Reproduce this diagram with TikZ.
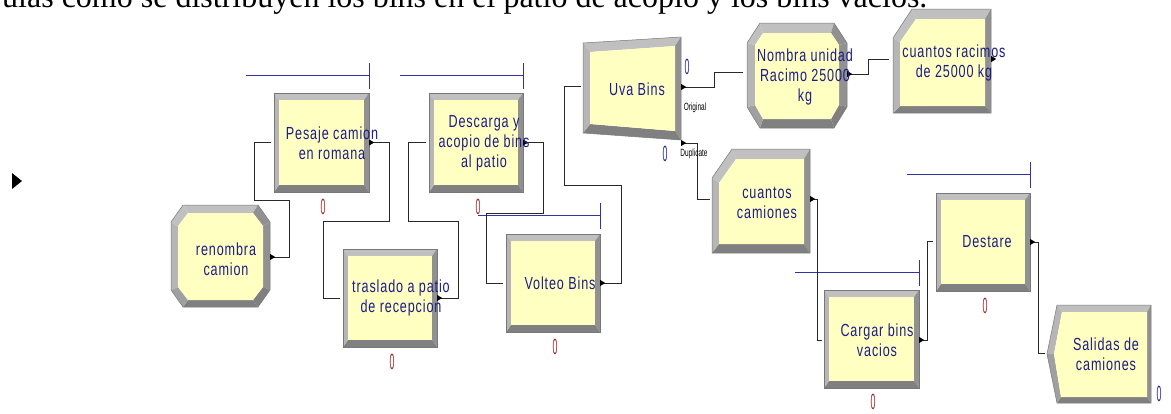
\documentclass[tikz,border=0pt]{standalone}
\usepackage{fontspec}
\usetikzlibrary{calc}
\newfontfamily\arenafont[FakeStretch=0.72,LetterSpace=5]{Liberation Sans}
\newfontfamily\countfont[FakeStretch=0.4]{Liberation Sans}
\newfontfamily\portfont[FakeStretch=0.62]{Liberation Sans}
\newfontfamily\docfont{Liberation Serif}

\definecolor{modfill}{RGB}{255,255,194}
\definecolor{bvtop}{RGB}{192,192,192}
\definecolor{bvleft}{RGB}{182,182,182}
\definecolor{bvright}{RGB}{145,145,145}
\definecolor{bvbottom}{RGB}{128,128,128}
\definecolor{bvlower}{RGB}{160,160,160}
\definecolor{bvedge}{RGB}{120,120,120}
\definecolor{modtext}{RGB}{28,28,135}
\definecolor{queueblue}{RGB}{50,50,165}
\definecolor{cntred}{RGB}{165,40,40}
\definecolor{cntblue}{RGB}{40,40,170}
\definecolor{connline}{RGB}{40,40,40}

\tikzset{
  modlabel/.style={font=\arenafont\fontsize{17.5}{20}\selectfont, text=modtext, align=center, inner sep=0pt},
  modarea/.style={rectangle, inner sep=0pt, draw=none},
  conn/.style={draw=connline, line width=1pt},
  queue/.style={draw=queueblue, line width=1pt},
  redcount/.style={font=\countfont\fontsize{22}{22}\selectfont, text=cntred, inner sep=0pt},
  bluecount/.style={font=\countfont\fontsize{22}{22}\selectfont, text=cntblue, inner sep=0pt},
  portlabel/.style={font=\portfont\fontsize{10.5}{11}\selectfont, inner sep=0pt},
  outline/.style={draw=bvedge, line width=0.5pt},
}

% bevel faces between outer points o<i> and inner points i<i>
\newcommand\bevel[1]{%
  \foreach \a/\b/\c in {#1}{\fill[fill=\c] (o\a) -- (o\b) -- (i\b) -- (i\a) -- cycle;}}

% rectangular Process module with bevelled frame
\newcommand\processbox[5]{%
  \coordinate (o1) at (#2,#3); \coordinate (o2) at (#4,#3);
  \coordinate (o3) at (#4,#5); \coordinate (o4) at (#2,#5);
  \coordinate (i1) at (#2+5,#3+7); \coordinate (i2) at (#4-5,#3+7);
  \coordinate (i3) at (#4-5,#5-7); \coordinate (i4) at (#2+5,#5-7);
  \bevel{1/2/bvtop,2/3/bvright,3/4/bvbottom,4/1/bvleft}
  \fill[modfill] (i1) -- (i2) -- (i3) -- (i4) -- cycle;
  \draw[outline] (o1) -- (o2) -- (o3) -- (o4) -- cycle;
  \node[modarea, minimum width={#4-#2}, minimum height={#5-#3}] (#1) at ({(#2+#4)/2},{(#3+#5)/2}) {};
}

% queue line above a module: node, length, rise above the top edge
\newcommand\queueline[3]{%
  \draw[queue] ($(#1.north east)+(0,-#3)$) -- ++(-#2,0);
  \draw[queue] ($(#1.north east)+(0,-#3-13)$) -- ++(0,26);}

% exit point marker
\newcommand\exitmark[1]{\fill[black] (#1) ++(0,-3) -- ++(5,3) -- ++(-5,3) -- cycle;}

\begin{document}
\begin{tikzpicture}[x=1pt,y=-1pt]
\useasboundingbox (0,0) rectangle (1171,413);
\clip (0,0) rectangle (1171,413);
\fill[white] (0,0) rectangle (1171,413);

% running text of the page
\node[font=\docfont\fontsize{32}{36}\selectfont, anchor=base west, inner sep=0pt] (intro) at (2,7)
  {ulas como se distribuyen los bins en el patio de acopio y los bins vacíos.};

% page marker
\fill[black] (12,173) -- (22,181) -- (12,189) -- cycle;

% ---------- Process modules
\processbox{pesaje}{274}{93}{369}{192}
\processbox{traslado}{343}{249}{437}{347}
\processbox{descarga}{429}{93}{523}{192}
\processbox{volteo}{506}{234}{600}{332}
\processbox{cargar}{824}{290}{919}{388}
\processbox{destare}{936}{193}{1030}{291}

% ---------- Assign: renombra camion
\coordinate (o1) at (183,205); \coordinate (o2) at (258,205);
\coordinate (o3) at (270,222); \coordinate (o4) at (270,290);
\coordinate (o5) at (258,307); \coordinate (o6) at (183,307);
\coordinate (o7) at (171,290); \coordinate (o8) at (171,222);
\coordinate (i1) at (188,213); \coordinate (i2) at (253,213);
\coordinate (i3) at (263,226); \coordinate (i4) at (263,287);
\coordinate (i5) at (253,300); \coordinate (i6) at (188,300);
\coordinate (i7) at (178,287); \coordinate (i8) at (178,226);
\bevel{1/2/bvtop,2/3/bvright,3/4/bvright,4/5/bvbottom,5/6/bvbottom,6/7/bvlower,7/8/bvleft,8/1/bvtop}
\fill[modfill] (i1)--(i2)--(i3)--(i4)--(i5)--(i6)--(i7)--(i8)--cycle;
\draw[outline] (o1)--(o2)--(o3)--(o4)--(o5)--(o6)--(o7)--(o8)--cycle;
\node[modarea, minimum width=99, minimum height=102] (renombra) at (220.5,256) {};

% ---------- Separate: Uva Bins
\coordinate (o1) at (583,43); \coordinate (o2) at (681,37);
\coordinate (o3) at (681,140); \coordinate (o4) at (583,133);
\coordinate (i1) at (590,52); \coordinate (i2) at (675,46);
\coordinate (i3) at (675,131); \coordinate (i4) at (590,124);
\bevel{1/2/bvtop,2/3/bvright,3/4/bvbottom,4/1/bvleft}
\fill[modfill] (i1)--(i2)--(i3)--(i4)--cycle;
\draw[outline] (o1)--(o2)--(o3)--(o4)--cycle;
\node[modarea, minimum width=98, minimum height=103] (uva) at (632,88.5) {};

% ---------- Assign: Nombra unidad
\coordinate (o1) at (760,23); \coordinate (o2) at (834,23);
\coordinate (o3) at (847,43); \coordinate (o4) at (847,107);
\coordinate (o5) at (834,128); \coordinate (o6) at (760,128);
\coordinate (o7) at (747,107); \coordinate (o8) at (747,43);
\coordinate (i1) at (763,33); \coordinate (i2) at (831,33);
\coordinate (i3) at (839,45); \coordinate (i4) at (839,105);
\coordinate (i5) at (831,119); \coordinate (i6) at (763,119);
\coordinate (i7) at (755,105); \coordinate (i8) at (755,45);
\bevel{1/2/bvtop,2/3/bvright,3/4/bvright,4/5/bvbottom,5/6/bvbottom,6/7/bvlower,7/8/bvleft,8/1/bvtop}
\fill[modfill] (i1)--(i2)--(i3)--(i4)--(i5)--(i6)--(i7)--(i8)--cycle;
\draw[outline] (o1)--(o2)--(o3)--(o4)--(o5)--(o6)--(o7)--(o8)--cycle;
\node[modarea, minimum width=100, minimum height=105] (nombra) at (797,75.5) {};

% ---------- Record: cuantos racimos
\coordinate (o1) at (912,9); \coordinate (o2) at (991,9);
\coordinate (o3) at (991,113); \coordinate (o4) at (893,113);
\coordinate (o5) at (893,38);
\coordinate (i1) at (916,19); \coordinate (i2) at (985,19);
\coordinate (i3) at (985,106); \coordinate (i4) at (900,106);
\coordinate (i5) at (900,42);
\bevel{1/2/bvtop,2/3/bvright,3/4/bvbottom,4/5/bvleft,5/1/bvtop}
\fill[modfill] (i1)--(i2)--(i3)--(i4)--(i5)--cycle;
\draw[outline] (o1)--(o2)--(o3)--(o4)--(o5)--cycle;
\node[modarea, minimum width=98, minimum height=104] (racimos) at (942,61) {};

% ---------- Record: cuantos camiones
\coordinate (o1) at (732,149); \coordinate (o2) at (810,149);
\coordinate (o3) at (810,253); \coordinate (o4) at (712,253);
\coordinate (o5) at (712,178);
\coordinate (i1) at (736,159); \coordinate (i2) at (804,159);
\coordinate (i3) at (804,244); \coordinate (i4) at (719,244);
\coordinate (i5) at (719,183);
\bevel{1/2/bvtop,2/3/bvright,3/4/bvbottom,4/5/bvleft,5/1/bvtop}
\fill[modfill] (i1)--(i2)--(i3)--(i4)--(i5)--cycle;
\draw[outline] (o1)--(o2)--(o3)--(o4)--(o5)--cycle;
\node[modarea, minimum width=98, minimum height=104] (camiones) at (761,201) {};

% ---------- Dispose: Salidas de camiones
\coordinate (o1) at (1057,305); \coordinate (o2) at (1151,305);
\coordinate (o3) at (1151,403); \coordinate (o4) at (1057,403);
\coordinate (o5) at (1047,354);
\coordinate (i1) at (1062,312); \coordinate (i2) at (1147,312);
\coordinate (i3) at (1147,397); \coordinate (i4) at (1061,397);
\coordinate (i5) at (1054,354);
\bevel{1/2/bvtop,2/3/bvright,3/4/bvbottom,4/5/bvlower,5/1/bvleft}
\fill[modfill] (i1)--(i2)--(i3)--(i4)--(i5)--cycle;
\draw[outline] (o1)--(o2)--(o3)--(o4)--(o5)--cycle;
\node[modarea, minimum width=104, minimum height=98] (salidas) at (1099,354) {};

% ---------- queues
\queueline{pesaje}{123}{17}
\queueline{descarga}{123}{17}
\queueline{volteo}{122}{18}
\queueline{cargar}{124}{17}
\queueline{destare}{123}{18}

% ---------- ports
\coordinate (renombra-out) at ($(renombra.east)+(0,1)$);
\coordinate (pesaje-in) at ($(pesaje.west)+(-3,0)$);
\coordinate (pesaje-out) at (pesaje.east);
\coordinate (traslado-in) at ($(traslado.west)+(-3,0)$);
\coordinate (traslado-out) at (traslado.east);
\coordinate (descarga-in) at ($(descarga.west)+(-3,0)$);
\coordinate (descarga-out) at (descarga.east);
\coordinate (volteo-in) at ($(volteo.west)+(-3,0)$);
\coordinate (volteo-out) at (volteo.east);
\coordinate (uva-in) at ($(uva.west)+(-2,-2.5)$);
\coordinate (uva-orig) at ($(uva.east)+(0,-1.5)$);
\coordinate (uva-dup) at ($(uva.east)+(0,54.5)$);
\coordinate (nombra-in) at ($(nombra.west)+(-4,-3.5)$);
\coordinate (nombra-out) at ($(nombra.east)+(0,-1.5)$);
\coordinate (racimos-in) at ($(racimos.west)+(-4,-2)$);
\coordinate (racimos-out) at ($(racimos.east)+(0,-2)$);
\coordinate (camiones-in) at ($(camiones.west)+(-2,-2)$);
\coordinate (camiones-out) at ($(camiones.east)+(0,-2)$);
\coordinate (cargar-in) at ($(cargar.west)+(-2,1)$);
\coordinate (cargar-out) at ($(cargar.east)+(0,1)$);
\coordinate (destare-in) at ($(destare.west)+(-3,-1)$);
\coordinate (destare-out) at (destare.east);
\coordinate (salidas-in) at ($(salidas.west)+(-2,-1)$);

% ---------- connectors
\draw[conn] (renombra-out) -- ++(19,0) |- (254,200) |- (pesaje-in);
\draw[conn] (pesaje-out) -- ++(20,0) |- (323,221) |- (traslado-in);
\draw[conn] (traslado-out) -- ++(21,0) |- (408,221) |- (descarga-in);
\draw[conn] (descarga-out) -- ++(20,0) |- (486,213) |- (volteo-in);
\draw[conn] (volteo-out) -- ++(21,0) |- (564,185) |- (uva-in);
\draw[conn] (uva-orig) -- ++(33,0) |- (nombra-in);
\draw[conn] (uva-dup) -- ++(16,0) |- (camiones-in);
\draw[conn] (nombra-out) -- ++(21,0) |- (racimos-in);
\draw[conn] (camiones-out) -- ++(7,0) |- (cargar-in);
\draw[conn] (cargar-out) -- ++(8,0) |- (destare-in);
\draw[conn] (destare-out) -- ++(8,0) |- (salidas-in);

% ---------- exit markers
\foreach \p in {renombra-out,pesaje-out,traslado-out,descarga-out,volteo-out,uva-orig,uva-dup,nombra-out,racimos-out,camiones-out,cargar-out,destare-out}
  {\exitmark{\p}}

% ---------- module labels
\node[modlabel] (pesaje-label) at (332,143) {Pesaje camion\\en romana};
\node[modlabel] (traslado-label) at (401,298) {traslado a patio\\de recepcion};
\node[modlabel] (descarga-label) at (484,143) {Descarga y\\acopio de bins\\al patio};
\node[modlabel] (volteo-label) at (560,283) {Volteo Bins};
\node[modlabel] (renombra-label) at (226,259) {renombra\\camion};
\node[modlabel] (uva-label) at (637,89) {Uva Bins};
\node[modlabel] (nombra-label) at (805,77) {Nombra unidad\\Racimo 25000\\kg};
\node[modlabel] (racimos-label) at (954,62.5) {cuantos racimos\\de 25000 kg};
\node[modlabel] (camiones-label) at (767,203) {cuantos\\camiones};
\node[modlabel] (cargar-label) at (877,340) {Cargar bins\\vacios};
\node[modlabel] (destare-label) at (987,242) {Destare};
\node[modlabel] (salidas-label) at (1106,354) {Salidas de\\camiones};

% ---------- port labels
\node[portlabel] (orig-label) at (695,108) {Original};
\node[portlabel] (dup-label) at (694,154) {Duplicate};

% ---------- counters
\node[redcount] (pesaje-count) at (323,207) {0};
\node[redcount] (descarga-count) at (478,207) {0};
\node[redcount] (traslado-count) at (392,362) {0};
\node[redcount] (volteo-count) at (555,347) {0};
\node[redcount] (cargar-count) at (873,402) {0};
\node[redcount] (destare-count) at (985,306) {0};
\node[bluecount] (uva-count-a) at (687,67) {0};
\node[bluecount] (uva-count-b) at (665,154) {0};
\node[bluecount] (salidas-count) at (1159,394) {0};
\end{tikzpicture}
\end{document}
